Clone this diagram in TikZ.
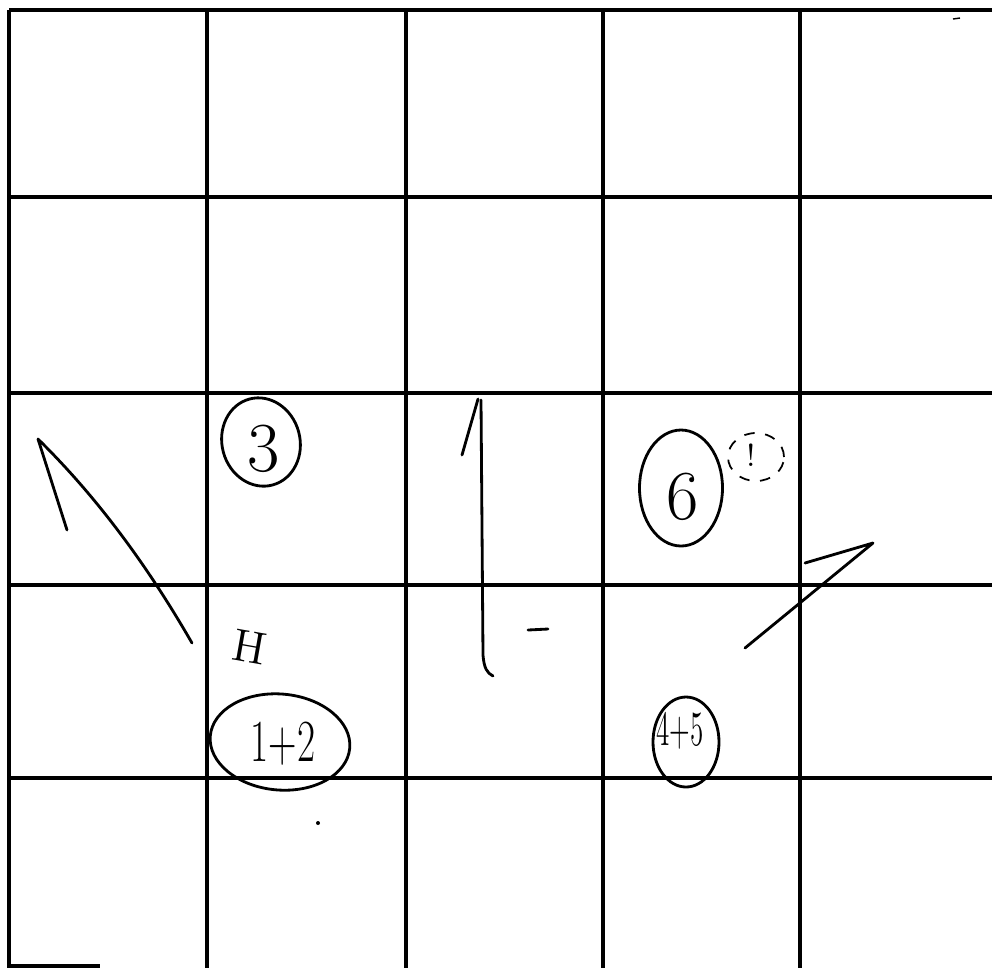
\documentclass[tikz,border=0pt]{standalone}
\usetikzlibrary{shapes.geometric}
\begin{document}
\begin{tikzpicture}[x=0.1mm, y=-0.1mm]
    % --- Styles ---
    \tikzset{
        gridline/.style={line width=1.4pt, color=black},
        ring/.style={ellipse, draw, line width=0.8pt, inner sep=0pt},
        hand/.style={line width=0.8pt, line cap=round, line join=round},
        digit/.style={font=\fontsize{20}{24}\selectfont}
    }
    \useasboundingbox (0,0) rectangle (992,968);

    % --- Grid 5x5 ---
    \draw[gridline] (9,10) -- (9,968);
    \foreach \x in {207, 406, 603, 800} {
        \draw[gridline] (\x,10) -- (\x,968);
    }
    \foreach \y in {10, 197, 393, 585, 778} {
        \draw[gridline] (9,\y) -- (992,\y);
    }
    \draw[line width=0.9pt] (9,966) -- (100,966);

    % --- Circled numbers ---
    \node[ring, minimum width=7.8mm, minimum height=8.9mm, rotate=15] (three) at (261,442) {};
    \node[digit] (threetxt) at (264,449) {3};

    \node[ring, minimum width=14mm, minimum height=9.6mm, rotate=-5] (onetwo) at (280,742) {};
    \node[font=\fontsize{17}{20}\selectfont] (onetwotxt) at (283,744) {\scalebox{0.66}[1]{1+2}};
    \node[font=\fontsize{13}{16}\selectfont, rotate=-10] (hmark) at (250,647) {H};

    \node[ring, minimum width=8.3mm, minimum height=11.6mm] (six) at (681,488) {};
    \node[digit] (sixtxt) at (683,497) {6};
    \node[ring, dashed, line width=0.5pt, minimum width=5.6mm, minimum height=4.8mm] (bang) at (756,457) {};
    \node[font=\fontsize{9}{10}\selectfont] (bangtxt) at (751,455) {!};

    \node[ring, minimum width=6.6mm, minimum height=9mm] (fourfive) at (686,742) {};
    \node[font=\fontsize{14}{16}\selectfont] (fourfivetxt) at (680,731) {\scalebox{0.55}[1]{4+5}};

    % --- Freehand strokes ---
    \draw[hand] (67,530) -- (38,439) .. controls (100,500) and (150,570) .. (192,643);
    \draw[hand] (462,455) -- (478,399);
    \draw[hand] (481,400) -- (483,655) .. controls (484,668) and (487,673) .. (493,676);
    \draw[hand] (528,630) -- (548,629);
    \draw[hand] (805,563) -- (873,543) -- (745,648);

    % --- Specks ---
    \fill (318,823) circle (2);
    \draw[thin] (953,19) -- (960,18);
\end{tikzpicture}
\end{document}
